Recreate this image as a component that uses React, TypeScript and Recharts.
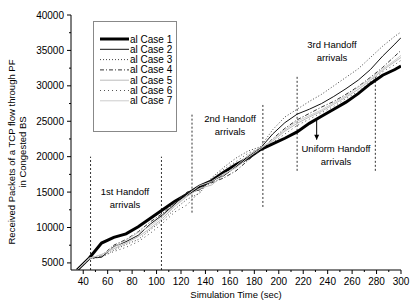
import React from 'react';
import { LineChart, Line, XAxis, YAxis, ReferenceLine } from 'recharts';

const times = [35, 45, 55, 65, 75, 85, 95, 105, 115, 125, 135, 145, 155, 165, 175, 185, 195, 205, 215, 225, 235, 245, 255, 265, 275, 285, 295, 300];
const case1 = [4000, 5700, 7800, 8600, 9100, 10100, 11300, 12500, 13700, 14700, 15800, 16600, 17800, 18900, 19800, 21000, 21800, 22600, 23500, 24700, 25700, 26700, 27700, 28900, 30300, 31500, 32300, 32800];
const case2 = [4000, 5700, 5800, 7300, 8000, 8900, 10500, 11800, 13300, 14900, 15300, 16700, 17300, 18600, 19700, 21200, 23200, 24800, 26000, 26700, 27500, 28500, 29600, 30800, 32300, 34200, 35900, 36800];
const case3 = [4000, 5600, 5800, 6800, 7600, 8300, 9700, 11000, 12600, 14000, 14800, 17000, 18500, 19800, 20800, 21400, 23800, 25600, 26700, 27800, 28800, 30000, 31200, 32400, 34000, 35600, 37000, 37600];
const case4 = [4000, 5700, 6000, 7500, 8300, 9400, 10800, 12000, 13500, 15000, 15600, 16300, 17000, 18000, 19500, 21000, 22500, 24000, 25200, 26100, 27000, 27800, 28800, 29900, 31200, 32600, 34200, 35000];
const case5 = [4000, 5600, 6200, 7000, 7800, 8700, 9900, 11300, 13000, 14400, 15500, 16000, 17400, 18700, 20200, 21300, 22200, 23600, 24700, 25600, 26400, 27400, 28400, 29500, 30800, 32200, 33400, 34000];
const case6 = [4000, 5500, 5900, 6600, 7200, 8000, 9200, 10600, 12200, 13200, 15000, 16900, 18200, 19300, 20500, 21200, 22000, 23200, 24400, 25300, 26200, 27100, 28200, 29200, 30600, 32000, 33000, 33600];
const case7 = [4000, 5700, 6100, 7200, 8200, 9300, 10200, 11600, 13100, 14600, 15900, 16500, 17600, 18400, 19900, 21100, 22400, 23800, 25000, 25800, 26600, 27600, 28600, 29800, 31000, 32400, 33600, 34300];

const caseNames = ['al Case 1', 'al Case 2', 'al Case 3', 'al Case 4', 'al Case 5', 'al Case 6', 'al Case 7'];
const xTicks = [40, 50, 60, 70, 80, 90, 100, 110, 120, 130, 140, 150, 160, 170, 180, 190, 200, 210, 220, 230, 240, 250, 260, 270, 280, 290, 300];
const yTicks = [5000, 7500, 10000, 12500, 15000, 17500, 20000, 22500, 25000, 27500, 30000, 32500, 35000, 37500, 40000];

// handoff marker lines: [time, from, to]
const markers: [number, number, number][] = [
  [46, 4000, 20000],
  [104, 4000, 20000],
  [129, 12100, 26000],
  [187, 12900, 27400],
  [215, 18000, 31500],
  [279, 18000, 31500],
];

const data = times.map((t, i) => ({
  t,
  c1: case1[i], c2: case2[i], c3: case3[i], c4: case4[i],
  c5: case5[i], c6: case6[i], c7: case7[i],
}));

const series = [
  { key: 'c1', stroke: '#000', width: 3, dash: undefined },
  { key: 'c2', stroke: '#111', width: 1, dash: undefined },
  { key: 'c3', stroke: '#444', width: 1, dash: '1 2' },
  { key: 'c4', stroke: '#333', width: 1, dash: '4 2 1 2' },
  { key: 'c5', stroke: '#bbb', width: 1, dash: undefined },
  { key: 'c6', stroke: '#555', width: 1, dash: '1 3' },
  { key: 'c7', stroke: '#ccc', width: 1, dash: undefined },
];

const FONT = '"Liberation Sans", Arial, sans-serif';
const TICK_SIZE = 4;
const TICK_MARGIN = 3;

const XTick = (props: any) => {
  const { x, y, payload } = props;
  const axisY = y - TICK_SIZE - TICK_MARGIN;
  const major = payload.value % 20 === 0;
  return (
    <g>
      <line x1={x} x2={x} y1={axisY} y2={axisY + (major ? 4 : 2)} stroke="#000" />
      {major && (
        <text x={x} y={y} dy="0.75em" textAnchor="middle" fontSize={10} fill="#000" fontFamily={FONT}>
          {payload.value}
        </text>
      )}
    </g>
  );
};

const YTick = (props: any) => {
  const { x, y, payload } = props;
  const axisX = x + TICK_SIZE + TICK_MARGIN;
  const major = payload.value % 5000 === 0;
  return (
    <g>
      <line x1={axisX} x2={axisX - (major ? 4 : 2)} y1={y} y2={y} stroke="#000" />
      {major && (
        <text x={x} y={y} dy="0.35em" textAnchor="end" fontSize={10} fill="#000" fontFamily={FONT}>
          {payload.value}
        </text>
      )}
    </g>
  );
};

const ArrowShape = (props: any) => {
  const { x1, y1, x2, y2 } = props;
  return (
    <g>
      <line x1={x1} y1={y1} x2={x2} y2={y2} stroke="#000" strokeWidth={1} />
      <path d={`M${x2 - 2.5},${y2 - 5} L${x2},${y2} L${x2 + 2.5},${y2 - 5} Z`} fill="#000" />
    </g>
  );
};

const Legend = () => (
  <div
    style={{
      position: 'absolute', left: 93, top: 21, width: 84, height: 111,
      border: '1px solid #888', boxSizing: 'border-box', fontFamily: FONT, fontSize: 10,
    }}
  >
    <svg width={84} height={111} style={{ position: 'absolute', left: 0, top: 0 }}>
      {series.map((s, i) => {
        const cy = 17 + i * 10.3;
        return (
          <g key={s.key}>
            <line x1={6} x2={35} y1={cy} y2={cy} stroke={s.stroke} strokeWidth={s.width} strokeDasharray={s.dash} />
            <text x={36} y={cy} dy="0.35em" fontSize={10} fill="#000" fontFamily={FONT}>{caseNames[i]}</text>
          </g>
        );
      })}
    </svg>
  </div>
);

const notes = [
  { x: 125, y: 192, lines: ['1st Handoff', 'arrivals'] },
  { x: 230, y: 119, lines: ['2nd Handoff', 'arrivals'] },
  { x: 332, y: 45, lines: ['3rd Handoff', 'arrivals'] },
  { x: 336, y: 149, lines: ['Uniform Handoff', 'arrivals'] },
];

export default function App() {
  return (
    <div style={{ position: 'absolute', left: 0, top: 0, width: 410, height: 308, background: '#fff', fontFamily: FONT }}>
      <LineChart width={410} height={308} data={data} margin={{ top: 15, right: 9, bottom: 0, left: 0 }}>
        <XAxis
          dataKey="t" type="number" domain={[30, 300]} ticks={xTicks} interval={0}
          height={38} tickSize={TICK_SIZE} tickMargin={TICK_MARGIN} tickLine={false}
          tick={<XTick />} stroke="#000" allowDataOverflow
        />
        <YAxis
          type="number" domain={[4000, 40000]} ticks={yTicks} interval={0}
          width={71} tickSize={TICK_SIZE} tickMargin={TICK_MARGIN} tickLine={false}
          tick={<YTick />} stroke="#000" allowDataOverflow
        />
        {markers.map(([t, a, b]) => (
          <ReferenceLine
            key={t}
            segment={[{ x: t, y: a }, { x: t, y: b }]}
            stroke="#333" strokeDasharray="2 2" strokeWidth={1}
          />
        ))}
        <ReferenceLine segment={[{ x: 231, y: 25250 }, { x: 231, y: 22400 }]} shape={<ArrowShape />} />
        {series.map((s) => (
          <Line
            key={s.key} dataKey={s.key} stroke={s.stroke} strokeWidth={s.width}
            strokeDasharray={s.dash} dot={false} isAnimationActive={false} type="linear"
          />
        ))}
      </LineChart>
      <svg width={410} height={308} style={{ position: 'absolute', left: 0, top: 0, pointerEvents: 'none' }}>
        {notes.map((n) => (
          <text key={n.lines[0]} x={n.x} y={n.y} textAnchor="middle" fontSize={9.5} fontFamily={FONT} fill="#000">
            <tspan x={n.x} dy="0.35em">{n.lines[0]}</tspan>
            <tspan x={n.x} dy="1.35em">{n.lines[1]}</tspan>
          </text>
        ))}
        <text x={236} y={298} textAnchor="middle" fontSize={9.5} fontFamily={FONT} fill="#000">Simulation Time (sec)</text>
        <text transform="translate(12,152) rotate(-90)" textAnchor="middle" fontSize={9.5} fontFamily={FONT} fill="#000">
          <tspan x={0} dy="0.35em">Received Packets of a TCP flow through PF</tspan>
          <tspan x={0} dy="1.15em">in Congested BS</tspan>
        </text>
      </svg>
      <Legend />
    </div>
  );
}
